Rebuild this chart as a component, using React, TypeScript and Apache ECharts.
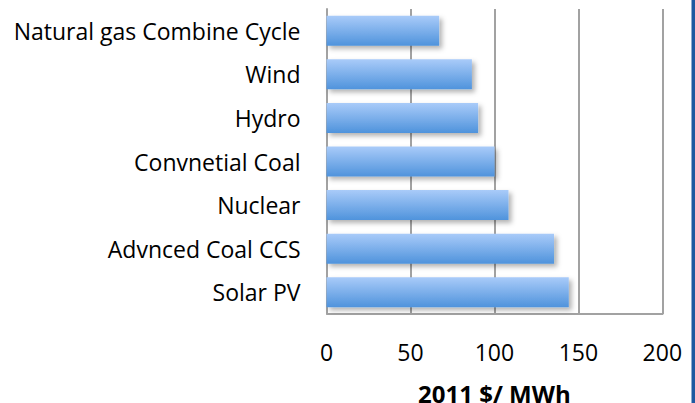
import React, { useEffect, useRef } from "react";
import * as echarts from "echarts";

const categories = [
  "Natural gas Combine Cycle",
  "Wind",
  "Hydro",
  "Convnetial Coal",
  "Nuclear",
  "Advnced Coal CCS",
  "Solar PV",
];
const costs = [67.1, 86.6, 90.3, 100.1, 108.4, 135.5, 144.3];
const axisMin = 0;
const axisMax = 200;
const axisStep = 50;
const axisTitle = "2011 $/ MWh";

export default function App() {
  const ref = useRef<HTMLDivElement>(null);
  useEffect(() => {
    if (!ref.current) return;
    const chart = echarts.init(ref.current, undefined, { renderer: "svg" });
    const font = "Open Sans";
    chart.setOption({
      animation: false,
      backgroundColor: "#ffffff",
      grid: {
        left: 326.5,
        right: 32.7,
        top: 9,
        bottom: 89,
        containLabel: false,
        outerBoundsMode: "none",
      },
      xAxis: {
        type: "value",
        min: axisMin,
        max: axisMax,
        interval: axisStep,
        name: axisTitle,
        nameLocation: "middle",
        nameGap: 67,
        nameTextStyle: { fontFamily: font, fontSize: 24, fontWeight: "bold", color: "#000" },
        axisLine: { show: false },
        axisTick: { show: false },
        axisLabel: { fontFamily: font, fontSize: 23, color: "#000", margin: 26 },
        splitLine: { show: true, lineStyle: { color: "#a2a2a2", width: 2 } },
      },
      yAxis: {
        type: "category",
        data: categories,
        inverse: true,
        axisLine: { show: true, lineStyle: { color: "#a2a2a2", width: 2 } },
        axisTick: { show: false },
        axisLabel: {
          fontFamily: font,
          fontSize: 23,
          color: "#000",
          margin: 26,
          padding: [4, 0, 0, 0],
        },
        splitLine: { show: false },
      },
      graphic: [
        {
          type: "rect",
          shape: { x: 691.5, y: 0, width: 4, height: 403 },
          style: { fill: "#1f5aa0" },
        },
        {
          type: "line",
          shape: { x1: 326.5, y1: 314, x2: 663.3, y2: 314 },
          style: { stroke: "#a2a2a2", lineWidth: 2 },
        },
      ],
      series: [
        {
          type: "bar",
          data: costs,
          barWidth: 30,
          itemStyle: {
            color: new echarts.graphic.LinearGradient(0, 0, 0, 1, [
              { offset: 0, color: "#a9cbf9" },
              { offset: 1, color: "#4f93dc" },
            ]),
            shadowColor: "rgba(0,0,0,0.3)",
            shadowBlur: 5,
            shadowOffsetX: 3,
            shadowOffsetY: 3,
          },
        },
      ],
    });
    return () => chart.dispose();
  }, []);
  return (
    <div
      ref={ref}
      style={{ position: "fixed", left: 0, top: 0, width: 695, height: 403 }}
    />
  );
}
